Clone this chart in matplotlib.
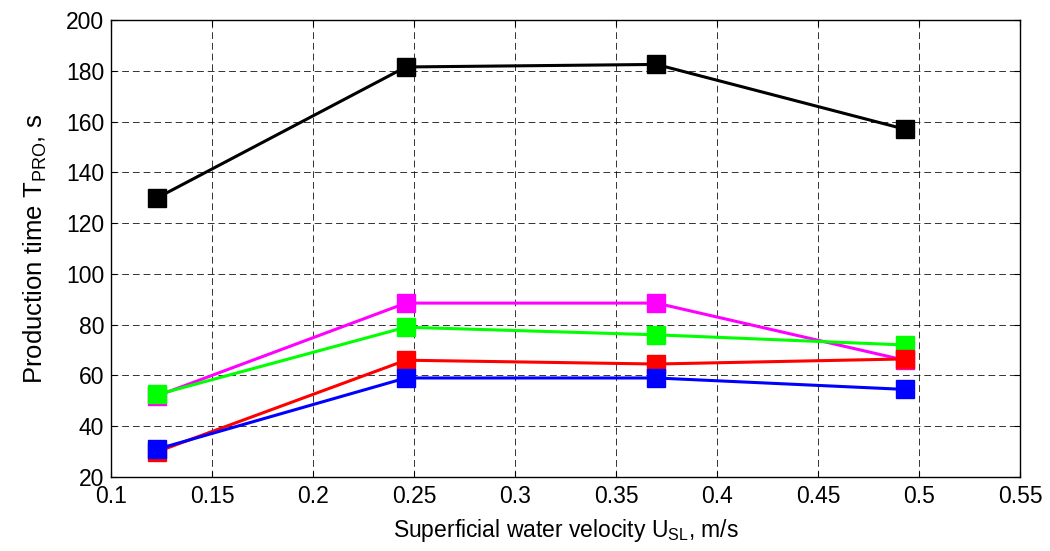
import numpy as np
import matplotlib.pyplot as plt

plt.rcParams['font.family'] = ['Liberation Sans', 'DejaVu Sans']
plt.rcParams['mathtext.default'] = 'regular'

# Superficial water velocity, m/s
usl = [0.123, 0.246, 0.370, 0.493]

# Production time for each series, s
t_black = [130, 181.5, 182.5, 157]
t_magenta = [52, 88.5, 88.5, 66]
t_green = [52.5, 79, 76, 72]
t_red = [30, 66, 64.5, 66.5]
t_blue = [31, 59, 59, 54.5]

series = [
    (t_black, 'k'),
    (t_magenta, '#ff00ff'),
    (t_green, '#00ff00'),
    (t_red, '#ff0000'),
    (t_blue, '#0000ff'),
]

fig = plt.figure(figsize=(10.5, 5.51), dpi=100)
ax = fig.add_axes([0.1057, 0.1343, 0.8657, 0.8294])

for t, c in series:
    ax.plot(usl, t, '-s', color=c, lw=2.2, ms=13, mfc=c, mec=c)

ax.set_xlim(0.1, 0.55)
ax.set_ylim(20, 200)
ax.set_xticks(np.arange(0.1, 0.551, 0.05))
ax.set_xticklabels(['0.1', '0.15', '0.2', '0.25', '0.3', '0.35', '0.4', '0.45', '0.5', '0.55'])
ax.set_yticks(np.arange(20, 201, 20))

ax.grid(True, color='k', linestyle=(0, (7, 4)), lw=0.7, alpha=0.8)
ax.tick_params(direction='in', labelsize=16.5, length=4, top=True, right=True)
ax.tick_params(axis='x', pad=6)
ax.tick_params(axis='y', pad=5)
for s in ax.spines.values():
    s.set_linewidth(1.0)

ax.set_xlabel('Superficial water velocity U$_{SL}$, m/s', fontsize=16.5, labelpad=6)
ax.set_ylabel('Production time T$_{PRO}$, s', fontsize=18.5, labelpad=12)

fig.savefig('out.png', dpi=100)
